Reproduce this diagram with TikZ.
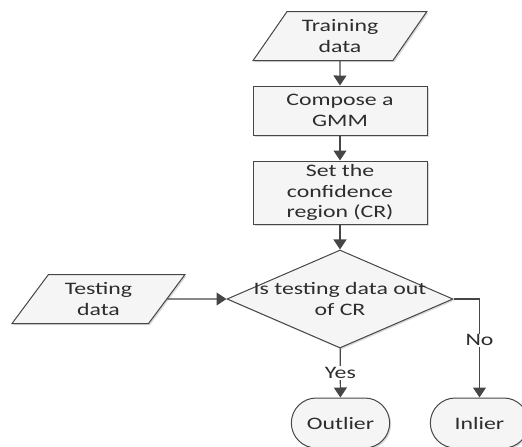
\documentclass[tikz,border=0pt]{standalone}
\usepackage{fontspec}
\setmainfont{Carlito}[FakeStretch=1.36]
\usepackage{tikz}
\usetikzlibrary{positioning, arrows.meta, shapes.geometric, shapes.misc, shadows}
\usepackage{xcolor}
\definecolor{LineColor}{RGB}{70, 70, 70}
\definecolor{BoxColor}{RGB}{245, 245, 245}
\definecolor{TextColor}{RGB}{45, 45, 45}

\begin{document}
\begin{tikzpicture}[x=1pt, y=-1pt, >={Triangle[length=10pt, width=13pt]},
  every node/.style={font=\fontsize{17.5}{20.5}\selectfont, text=TextColor, align=center},
  box/.style={draw=LineColor, line width=1pt, fill=BoxColor, drop shadow={opacity=0.3, shadow xshift=1.5pt, shadow yshift=-1.5pt}},
  io/.style={box, trapezium, trapezium left angle=54, trapezium right angle=126, trapezium stretches=true, minimum width=174pt, minimum height=49pt, inner sep=1pt},
  proc/.style={box, rectangle, minimum width=174pt},
  decision/.style={box, diamond, minimum width=226pt, minimum height=98pt, inner sep=0pt},
  term/.style={box, rounded rectangle, minimum width=105pt, minimum height=50pt},
  link/.style={->, draw=LineColor, line width=1.2pt},
  tag/.style={fill=white, inner sep=1pt}]

\useasboundingbox (0,0) rectangle (522,447);

\node[io] (train) at (340,36) {Training\\data};
\node[proc, minimum height=49pt] (gmm) at (340,110.5) {Compose a\\GMM};
\node[proc, minimum height=63pt] (cr) at (340,192.5) {Set the\\confidence\\region (CR)};
\node[decision] (check) at (340,299) {\makebox[0pt]{Is testing data out}\\\makebox[0pt]{of CR}};
\node[io, minimum width=173pt] (test) at (98.5,299) {Testing\\data};
\node[term] (outlier) at (340.5,423) {Outlier};
\node[term] (inlier) at (479.5,423) {Inlier};

\draw[link] (train) -- (gmm);
\draw[link] (gmm) -- (cr);
\draw[link] (cr) -- (check);
\draw[link] (test.east) -- (check.west);
\draw[link] (check) -- node[tag] {Yes} (outlier);
\draw[link] (check.east) -| node[tag, pos=0.71] {No} (inlier.north);

\end{tikzpicture}
\end{document}
